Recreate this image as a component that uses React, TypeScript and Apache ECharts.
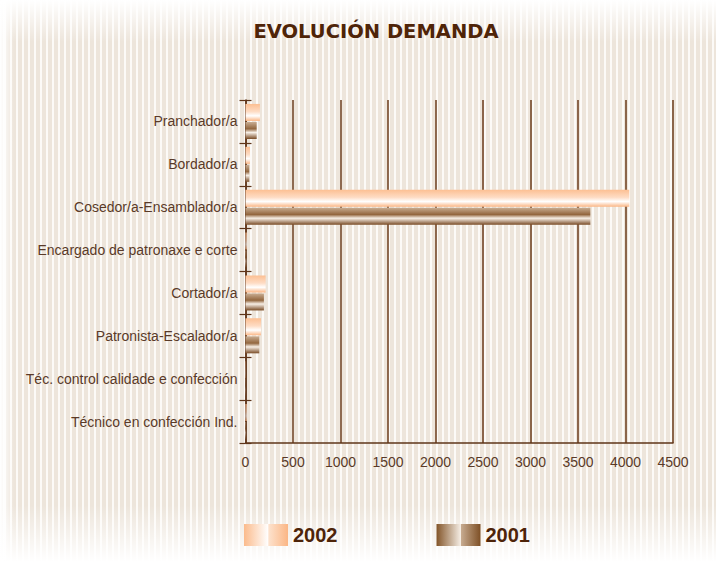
import React, { useEffect, useRef } from "react";
import * as echarts from "echarts";

const categories = [
  "Pranchador/a",
  "Bordador/a",
  "Cosedor/a-Ensamblador/a",
  "Encargado de patronaxe e corte",
  "Cortador/a",
  "Patronista-Escalador/a",
  "Téc. control calidade e confección",
  "Técnico en confección Ind.",
];
const values2002 = [152, 47, 4040, 12, 212, 163, 3, 12];
const values2001 = [118, 40, 3630, 8, 194, 145, 2, 6];
const seriesNames = ["2002", "2001"];

const brown = "#5e3418";
const labelColor = "#5a3a28";

export default function App() {
  const ref = useRef<HTMLDivElement>(null);
  useEffect(() => {
    if (!ref.current) return;
    const chart = echarts.init(ref.current, null, { renderer: "svg" });
    const G = echarts.graphic.LinearGradient;
    const bar2002 = new G(0, 0, 0, 1, [
      { offset: 0, color: "#fcbf92" },
      { offset: 0.45, color: "#fedcc4" },
      { offset: 0.7, color: "#ffffff" },
      { offset: 1, color: "#fbb685" },
    ]);
    const bar2001 = new G(0, 0, 0, 1, [
      { offset: 0, color: "#c9ad92" },
      { offset: 0.4, color: "#93673f" },
      { offset: 0.62, color: "#f7efe6" },
      { offset: 1, color: "#7a4c26" },
    ]);
    const leg2002 = new G(0, 0, 1, 0, [
      { offset: 0, color: "#fbbb8c" },
      { offset: 0.55, color: "#ffffff" },
      { offset: 0.56, color: "#fde2cd" },
      { offset: 1, color: "#fbb685" },
    ]);
    const leg2001 = new G(0, 0, 1, 0, [
      { offset: 0, color: "#835529" },
      { offset: 0.55, color: "#f5ede4" },
      { offset: 0.56, color: "#c7ab90" },
      { offset: 1, color: "#7e5026" },
    ]);
    chart.setOption({
      animation: false,
      backgroundColor: "transparent",
      title: {
        text: "EVOLUCIÓN DEMANDA",
        left: 371,
        top: 16,
        textAlign: "center",
        textStyle: {
          fontFamily: "DejaVu Sans",
          fontWeight: "bold",
          fontSize: 19.5,
          color: "#4f2408",
        },
      },
      legend: {
        left: 239,
        top: 519,
        itemWidth: 44,
        itemHeight: 22,
        itemGap: 99,
        icon: "rect",
        textStyle: {
          fontFamily: "Liberation Sans, Arial, sans-serif",
          fontWeight: "bold",
          fontSize: 20,
          color: "#4e2409",
        },
        data: [
          { name: seriesNames[0], itemStyle: { color: leg2002 } },
          { name: seriesNames[1], itemStyle: { color: leg2001 } },
        ],
      },
      grid: { left: 245.5, right: 43, top: 100, bottom: 119 },
      xAxis: {
        type: "value",
        min: 0,
        max: 4500,
        interval: 500,
        axisLine: { show: true, lineStyle: { color: brown, width: 1.5 } },
        axisTick: { show: false },
        axisLabel: {
          margin: 12,
          formatter: (v: number) => String(v),
          fontFamily: "Liberation Sans, Arial, sans-serif",
          fontSize: 14,
          color: labelColor,
        },
        splitLine: { show: true, lineStyle: { color: "#6a3a1a", width: 1.5 } },
      },
      yAxis: [
        {
          type: "category",
          data: categories,
          inverse: true,
          axisLine: { show: true, lineStyle: { color: brown, width: 1.5 } },
          axisTick: { show: true, length: 6, lineStyle: { color: brown, width: 1.2 } },
          axisLabel: {
            margin: 8,
            fontFamily: "Liberation Sans, Arial, sans-serif",
            fontSize: 14,
            color: labelColor,
          },
        },
        {
          type: "category",
          data: categories,
          inverse: true,
          position: "left",
          axisLine: { show: false },
          axisTick: { show: true, inside: true, length: 6, lineStyle: { color: brown, width: 1.2 } },
          axisLabel: { show: false },
        },
      ],
      series: [
        {
          name: seriesNames[0],
          type: "bar",
          data: values2002,
          barWidth: 17,
          barGap: "6%",
          itemStyle: { color: bar2002 },
        },
        {
          name: seriesNames[1],
          type: "bar",
          data: values2001,
          barWidth: 17,
          barGap: "6%",
          itemStyle: { color: bar2001 },
        },
      ],
    });
    return () => chart.dispose();
  }, []);
  return (
    <div
      style={{
        position: "absolute",
        left: 0,
        top: 0,
        width: 716,
        height: 562,
        background:
          "linear-gradient(to bottom, #ffffff 0px, rgba(255,255,255,0) 42px, rgba(255,255,255,0) 505px, #ffffff 562px), linear-gradient(to right, #ffffff 0px, rgba(255,255,255,0) 14px), repeating-linear-gradient(90deg, #ede5db 0px, #ede5db 3.5px, #fcfaf7 3.5px, #fcfaf7 6px)",
      }}
    >
      <div ref={ref} style={{ width: 716, height: 562 }} />
    </div>
  );
}
